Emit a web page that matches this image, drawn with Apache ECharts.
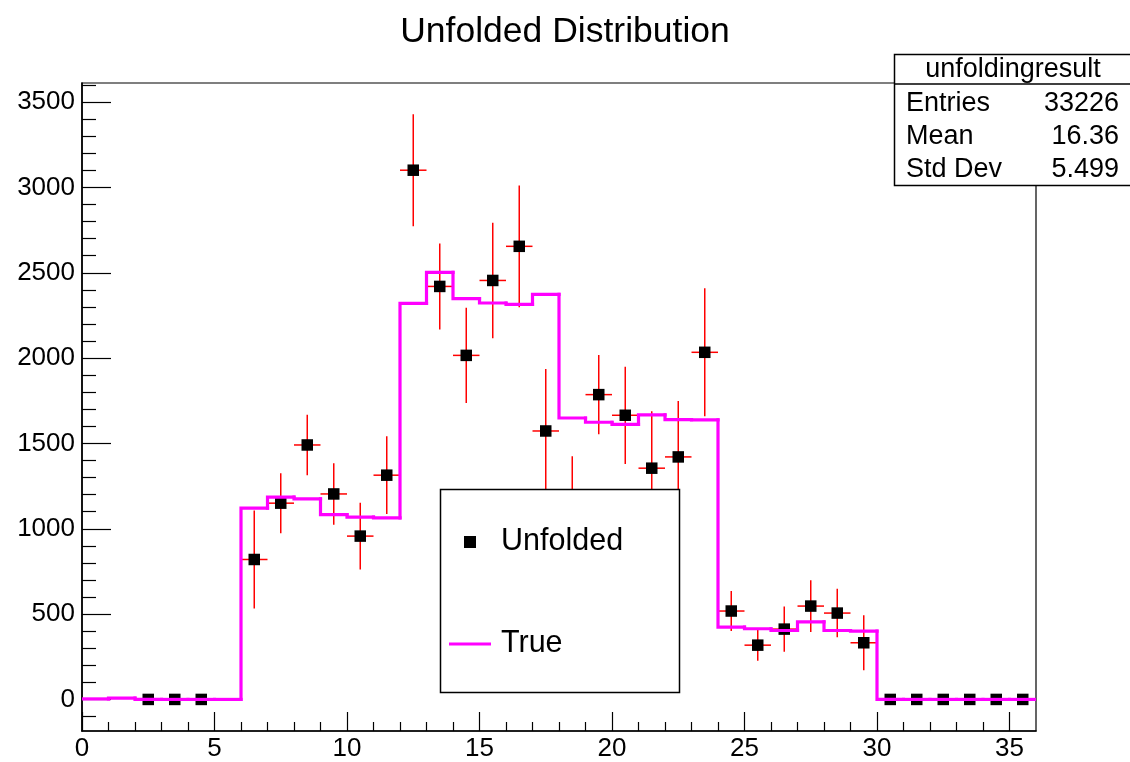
<!DOCTYPE html>
<html><head><meta charset="utf-8">
<script src="https://cdn.jsdelivr.net/npm/echarts@6/dist/echarts.min.js"></script>
<style>html,body{margin:0;padding:0;background:#fff}#c{width:1130px;height:762px}</style>
</head><body><div id="c"></div>
<script>
// ---- data ----
const binCenters = [0.5,1.5,2.5,3.5,4.5,5.5,6.5,7.5,8.5,9.5,10.5,11.5,12.5,13.5,14.5,15.5,16.5,17.5,
                    18.5,19.5,20.5,21.5,22.5,23.5,24.5,25.5,26.5,27.5,28.5,29.5,30.5,31.5,32.5,33.5,34.5,35.5];
const unfolded = [null,null,0,0,0,null,820,1150,1491,1204,957,1314,3101,2420,2016,2455,2655,1573,
                  1140,1786,1665,1355,1421,2034,518,318,412,547,506,332,0,0,0,0,0,0];
const unfoldedErr = [0,0,0,0,0,0,287,176,177,180,195,228,328,252,279,338,357,363,
                     285,232,285,334,328,375,117,91,132,152,142,161,0,0,0,0,0,0];
const trueVals = [3,8,0,0,0,0,1121,1185,1175,1083,1068,1064,2321,2502,2348,2323,2315,2374,
                  1649,1624,1612,1667,1639,1638,424,414,404,455,404,400,0,0,0,0,0,0];
const xTickLabels = [0,5,10,15,20,25,30,35];
const yTickLabels = [0,500,1000,1500,2000,2500,3000,3500];
const titleText = 'Unfolded Distribution';
const statsTitle = 'unfoldingresult';
const statsNames = ['Entries','Mean','Std Dev'];
const statsValues = ['33226','16.36','5.499'];
const legendNames = ['Unfolded','True'];

// ---- chart ----
const FONT = '"Liberation Sans", Arial, Helvetica, sans-serif';
const X_MIN = 0, X_MAX = 36, Y_MIN = -185, Y_MAX = 3612;
const halfBin = 0.5;

const minorX = [];
for (let v = 1; v < X_MAX; v++) if (v % 5 !== 0) minorX.push(v);
const minorY = [];
for (let v = -100; v <= 3600; v += 100) if (v % 500 !== 0) minorY.push(v);

const errData = [];
const ptData = [];
binCenters.forEach((x, i) => {
  if (unfolded[i] === null) return;
  ptData.push([x, unfolded[i]]);
  if (unfoldedErr[i] > 0) errData.push([x, unfolded[i], unfoldedErr[i]]);
});
// histogram step items: [bin center, content, previous bin content]
const stepData = binCenters.map((x, i) => [x, trueVals[i], i > 0 ? trueVals[i - 1] : trueVals[i]]);

const chart = echarts.init(document.getElementById('c'), null, {renderer: 'canvas'});
const black = '#000';
const MAGENTA = '#ff00ff';
const majorAxisCommon = {
  type: 'value', splitLine: {show: false},
  axisLine: {show: true, onZero: false, lineStyle: {color: black, width: 1.6}}
};
const statsRowY = [104, 137, 170];
const STATS_FONT = '27px ' + FONT;

chart.setOption({
  animation: false,
  backgroundColor: '#fff',
  title: {
    text: titleText, left: 'center', top: 9,
    textStyle: {fontSize: 35.5, fontWeight: 'normal', fontFamily: FONT, color: black}
  },
  grid: {left: 82, top: 83, right: 94, bottom: 30, show: true, borderColor: black, borderWidth: 1.2, containLabel: false},
  xAxis: [
    Object.assign({}, majorAxisCommon, {
      min: X_MIN, max: X_MAX, position: 'bottom',
      axisTick: {show: true, inside: true, length: 19, customValues: xTickLabels, lineStyle: {color: black, width: 1.2}},
      axisLabel: {customValues: xTickLabels, fontSize: 26, fontFamily: FONT, color: black, margin: 5,
                  formatter: v => String(v)}
    }),
    {
      type: 'value', min: X_MIN, max: X_MAX, position: 'bottom', splitLine: {show: false},
      axisLine: {show: false, onZero: false},
      axisTick: {show: true, inside: true, length: 9, customValues: minorX, lineStyle: {color: black, width: 1.2}},
      axisLabel: {show: false}
    }
  ],
  yAxis: [
    Object.assign({}, majorAxisCommon, {
      min: Y_MIN, max: Y_MAX, position: 'left',
      axisTick: {show: true, inside: true, length: 29, customValues: yTickLabels, lineStyle: {color: black, width: 1.2}},
      axisLabel: {customValues: yTickLabels, fontSize: 26, fontFamily: FONT, color: black, margin: 7,
                  formatter: v => String(v)}
    }),
    {
      type: 'value', min: Y_MIN, max: Y_MAX, position: 'left', splitLine: {show: false},
      axisLine: {show: false, onZero: false},
      axisTick: {show: true, inside: true, length: 14, customValues: minorY, lineStyle: {color: black, width: 1.2}},
      axisLabel: {show: false}
    }
  ],
  legend: {
    data: [
      {name: legendNames[0], icon: 'path://M0,0H10V10H0Z'},
      {name: legendNames[1], icon: 'path://M0,0H42V3.2H0Z'}
    ],
    orient: 'vertical', left: 449, top: 524, padding: 0,
    itemWidth: 42, itemHeight: 12, itemGap: 66, selectedMode: false, z: 60,
    textStyle: {fontSize: 30.5, fontFamily: FONT, color: black, lineHeight: 36, padding: [0, 0, 0, 5]}
  },
  graphic: [
    {type: 'rect', z: 50, shape: {x: 440.5, y: 489.5, width: 239, height: 203},
     style: {fill: '#fff', stroke: black, lineWidth: 1.5}},
    {type: 'rect', z: 50, shape: {x: 894.5, y: 54.5, width: 240, height: 131},
     style: {fill: '#fff', stroke: black, lineWidth: 1.5}},
    {type: 'line', z: 51, shape: {x1: 894.5, y1: 84, x2: 1130, y2: 84}, style: {stroke: black, lineWidth: 1.5}},
    {type: 'text', z: 52, x: 1013, y: 70,
     style: {text: statsTitle, font: STATS_FONT, fill: black, textAlign: 'center', textVerticalAlign: 'middle'}}
  ].concat(statsNames.map((n, i) => ({
    type: 'text', z: 52, x: 906, y: statsRowY[i],
    style: {text: n, font: STATS_FONT, fill: black, textAlign: 'left', textVerticalAlign: 'middle'}
  }))).concat(statsValues.map((v, i) => ({
    type: 'text', z: 52, x: 1119, y: statsRowY[i],
    style: {text: v, font: STATS_FONT, fill: black, textAlign: 'right', textVerticalAlign: 'middle'}
  }))),
  series: [
    {
      type: 'custom', name: 'errors', xAxisIndex: 0, yAxisIndex: 0, z: 2, silent: true, clip: true,
      data: errData,
      renderItem: function (params, api) {
        const x = api.value(0), v = api.value(1), e = api.value(2);
        const t = api.coord([x, v + e]), b = api.coord([x, v - e]);
        const l = api.coord([x - halfBin, v]), r = api.coord([x + halfBin, v]);
        const st = {stroke: '#ff0000', lineWidth: 1.5};
        return {type: 'group', children: [
          {type: 'line', shape: {x1: t[0], y1: t[1], x2: b[0], y2: b[1]}, style: st},
          {type: 'line', shape: {x1: l[0], y1: l[1], x2: r[0], y2: r[1]}, style: st}
        ]};
      }
    },
    {
      type: 'scatter', name: legendNames[0], xAxisIndex: 0, yAxisIndex: 0, z: 3,
      data: ptData, symbol: 'rect', symbolSize: 11.5, itemStyle: {color: black, opacity: 1}
    },
    {
      type: 'custom', name: legendNames[1], xAxisIndex: 0, yAxisIndex: 0, z: 4, silent: true, clip: true,
      itemStyle: {color: MAGENTA},
      data: stepData,
      renderItem: function (params, api) {
        const x = api.value(0), v = api.value(1), pv = api.value(2);
        const p0 = api.coord([x - halfBin, pv]);
        const p1 = api.coord([x - halfBin, v]);
        const p2 = api.coord([x + halfBin, v]);
        return {
          type: 'polyline',
          shape: {points: [p0, p1, p2]},
          style: {stroke: MAGENTA, fill: null, lineWidth: 3.2, lineCap: 'square', lineJoin: 'miter'}
        };
      }
    }
  ]
});
</script>
</body></html>
